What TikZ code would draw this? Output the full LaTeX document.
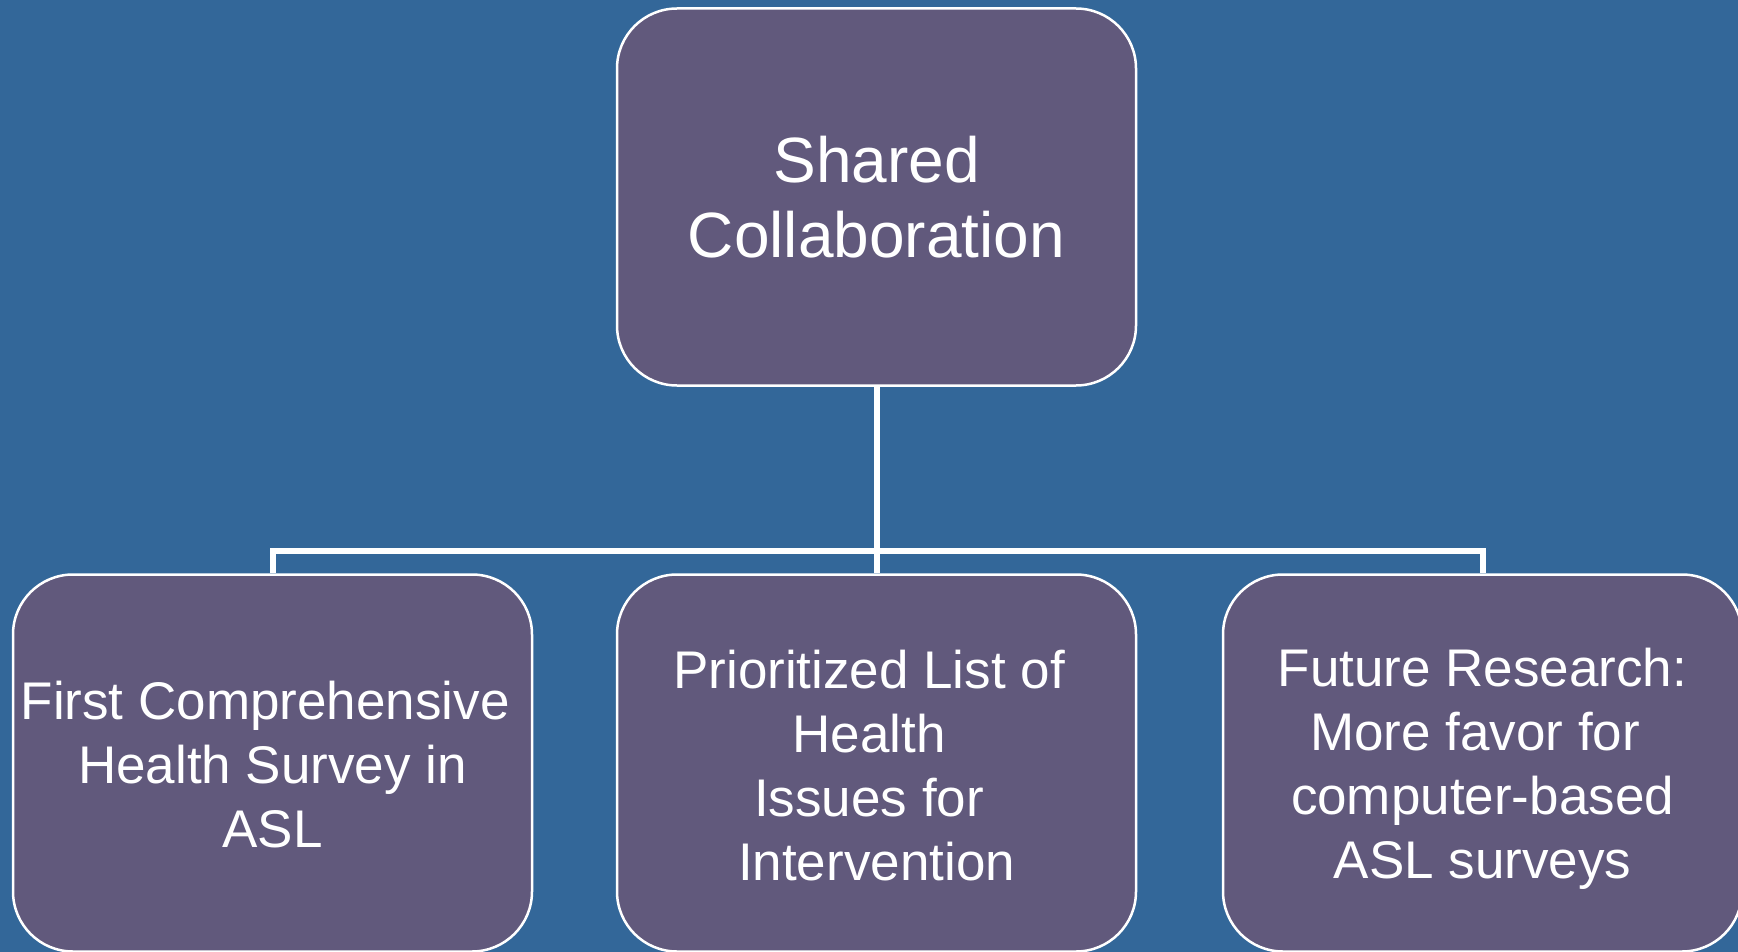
\documentclass[tikz,border=0pt]{standalone}
\usepackage{fontspec}
\setmainfont{Liberation Sans}
\definecolor{bg}{RGB}{51,103,153}
\definecolor{boxfill}{RGB}{97,89,124}
\newcommand{\trsp}{\kern0.278em}
\begin{document}
\begin{tikzpicture}[x=1pt,y=-1pt,
  box/.style={draw=white, line width=2.5pt, fill=boxfill, rounded corners=60pt,
    minimum width=519pt, minimum height=377pt, inner sep=0pt},
  txt/.style={text=white, align=center, inner sep=0pt, font=\fontsize{53}{64}\selectfont},
  bigtxt/.style={txt, font=\fontsize{64}{75}\selectfont},
  conn/.style={draw=white, line width=6pt}]
\fill[bg] (0,0) rectangle (1738,952);
\useasboundingbox (0,0) rectangle (1738,952);
\coordinate (j) at (876.5,551);
\node[box] (top) at (876.5,197) {};
\node[box] (b1) at (272.5,763) {};
\node[box] (b2) at (876.5,763) {};
\node[box] (b3) at (1482.5,763) {};
\draw[conn] (top.south) -- (j);
\draw[conn] (j) -| (b1.north);
\draw[conn] (j) -| (b3.north);
\draw[conn] (j) -- (b2.north);
\node[bigtxt] (ttop) at (top.center) {Shared\\Collaboration};
\node[txt] (t1) at ([yshift=-2pt]b1.center) {First Comprehensive\trsp\\Health Survey in\\ASL};
\node[txt] (t2) at ([yshift=-3pt]b2.center) {Prioritized List of\trsp\\Health\trsp\\Issues for\trsp\\Intervention};
\node[txt] (t3) at ([yshift=-6pt]b3.center) {Future Research:\\More favor for\trsp\\computer-based\\ASL surveys};
\end{tikzpicture}
\end{document}
